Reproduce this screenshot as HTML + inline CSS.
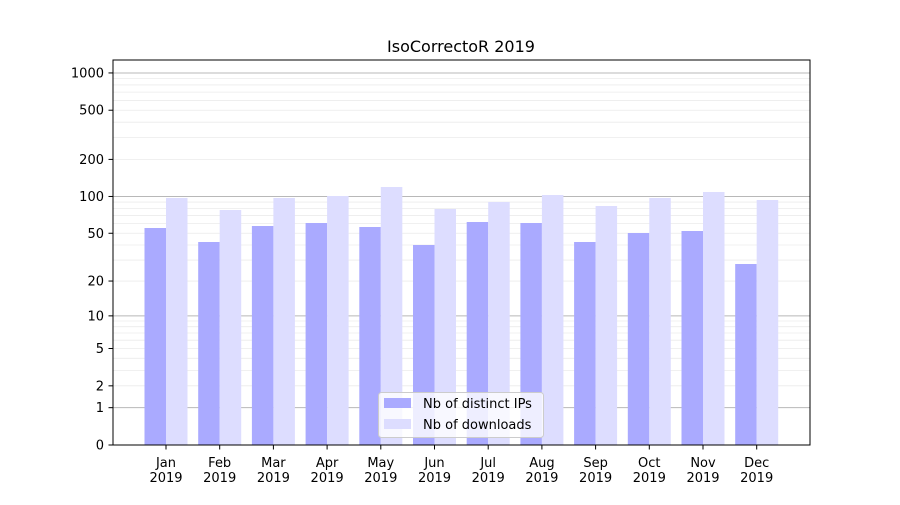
<!DOCTYPE html>
<html><head><style>
html,body{margin:0;padding:0;background:#fff;}
svg text{font-family:"DejaVu Sans","Liberation Sans",sans-serif;}
</style></head><body>
<svg id="s" width="900" height="500" xmlns="http://www.w3.org/2000/svg">
<rect width="900" height="500" fill="#fff"/>
<g id="grid"></g>
<g id="bars"></g>
<rect x="113" y="60" width="697" height="385" fill="none" stroke="#000" stroke-width="1"/>
<g id="ticks" font-size="13" fill="#000"></g>
<text x="461" y="52" font-size="16" text-anchor="middle">IsoCorrectoR 2019</text>
<g>
<rect x="378.5" y="392.5" width="165" height="45" rx="3" fill="#fff" fill-opacity="0.8" stroke="#ccc"/>
<rect x="384" y="398" width="27" height="10" fill="#aaaaff"/>
<rect x="384" y="419" width="27" height="10" fill="#ddddff"/>
<text x="423" y="408" font-size="13">Nb of distinct IPs</text>
<text x="423" y="429" font-size="13">Nb of downloads</text>
</g>
</svg>
<script>
var NS="http://www.w3.org/2000/svg";
function el(p,t,a,txt){var e=document.createElementNS(NS,t);for(var k in a)e.setAttribute(k,a[k]);if(txt)e.textContent=txt;document.getElementById(p).appendChild(e);}
function Y(v){return 445-124*Math.log10(1+v);}
var vals=[];
[1,10,100].forEach(function(d){for(var i=2;i<10;i++)vals.push(i*d);});
vals.forEach(function(v){var y=Y(v);el("grid","line",{x1:113,x2:810,y1:y,y2:y,stroke:"#ebebeb","stroke-width":0.8});});
[1,10,100,1000].forEach(function(v){var y=Y(v);el("grid","line",{x1:113,x2:810,y1:y,y2:y,stroke:"#b8b8b8","stroke-width":1});});
var ip=[228,242,226,223,227,245,222,223,242,233,231,264];
var dl=[198,210,198,196,187,209,202,195,206,198,192,200];
var m=["Jan","Feb","Mar","Apr","May","Jun","Jul","Aug","Sep","Oct","Nov","Dec"];
for(var i=0;i<12;i++){var c=166+i*53.7;
el("bars","rect",{x:c-21.5,y:ip[i],width:21.5,height:445-ip[i],fill:"#aaaaff"});
el("bars","rect",{x:c,y:dl[i],width:21.5,height:445-dl[i],fill:"#ddddff"});
el("ticks","line",{x1:c,x2:c,y1:445,y2:449.5,stroke:"#000"});
el("ticks","text",{x:c,y:467,"text-anchor":"middle"},m[i]);
el("ticks","text",{x:c,y:482,"text-anchor":"middle"},"2019");}
[0,1,2,5,10,20,50,100,200,500,1000].forEach(function(v){var y=Y(v);
el("ticks","line",{x1:108.5,x2:113,y1:y,y2:y,stroke:"#000"});
el("ticks","text",{x:104,y:y+4.5,"text-anchor":"end"},String(v));});
</script>
</body></html>
